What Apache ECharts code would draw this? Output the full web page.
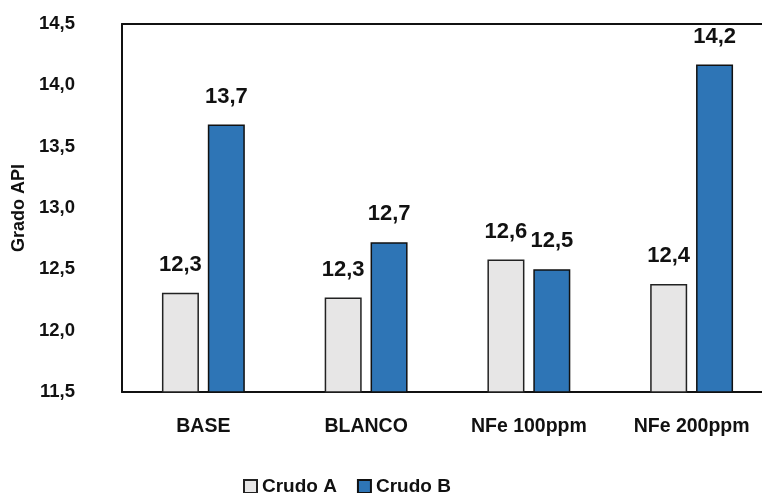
<!DOCTYPE html>
<html><head><meta charset="utf-8">
<script src="https://cdn.jsdelivr.net/npm/echarts@6/dist/echarts.min.js"></script>
<style>html,body{margin:0;padding:0;background:#fff;overflow:hidden}#c{width:773px;height:493px}</style>
</head><body><div id="c"></div>
<script>
var categories = ['BASE', 'BLANCO', 'NFe 100ppm', 'NFe 200ppm'];
var crudoA = [12.31, 12.27, 12.58, 12.38];
var crudoB = [13.68, 12.72, 12.50, 14.17];
var seriesNames = ['Crudo A', 'Crudo B'];
var yMin = 11.5, yMax = 14.5, yStep = 0.5;

var chart = echarts.init(document.getElementById('c'));
var fmt = function (v) { return v.toFixed(1).replace('.', ','); };
var FONT = 'Liberation Sans, Arial, sans-serif';
var labelCfg = {
  show: true, position: 'top', distance: 17,
  fontFamily: FONT, fontWeight: 'bold', fontSize: 22, color: '#111',
  formatter: function (p) { return fmt(p.value); }
};
chart.setOption({
  animation: false,
  grid: { left: 122, right: 0, top: 24, bottom: 101 },
  legend: {
    left: 238, top: 472, itemWidth: 13, itemHeight: 13, itemGap: 20, icon: 'rect',
    textStyle: { fontFamily: FONT, fontWeight: 'bold', fontSize: 19, color: '#111' },
    data: seriesNames
  },
  xAxis: [{
    type: 'category', data: categories,
    axisLine: { lineStyle: { color: '#111', width: 2 } },
    axisTick: { show: false },
    axisLabel: { interval: 0, margin: 25, fontFamily: FONT, fontWeight: 'bold', fontSize: 19.5, color: '#111' }
  }, {
    type: 'category', data: categories, position: 'top',
    axisLine: { show: true, lineStyle: { color: '#111', width: 2 } },
    axisTick: { show: false }, axisLabel: { show: false }
  }],
  yAxis: {
    type: 'value', min: yMin, max: yMax, interval: yStep,
    name: 'Grado API', nameLocation: 'middle', nameGap: 88, nameRotate: 90,
    nameTextStyle: { fontFamily: FONT, fontWeight: 'bold', fontSize: 18, color: '#111' },
    axisLine: { show: true, lineStyle: { color: '#111', width: 2 } },
    axisTick: { show: false },
    splitLine: { show: false },
    axisLabel: { margin: 47, fontFamily: FONT, fontWeight: 'bold', fontSize: 18.5, color: '#111', formatter: fmt }
  },
  series: [
    { name: seriesNames[0], type: 'bar', xAxisIndex: 0, data: crudoA, barWidth: 37, barGap: '24%',
      itemStyle: { color: '#e7e6e6', borderColor: '#222', borderWidth: 1.5 }, label: labelCfg },
    { name: seriesNames[1], type: 'bar', xAxisIndex: 0, data: crudoB, barWidth: 37,
      itemStyle: { color: '#2e75b6', borderColor: '#111', borderWidth: 1.5 }, label: labelCfg }
  ]
});
</script></body></html>
